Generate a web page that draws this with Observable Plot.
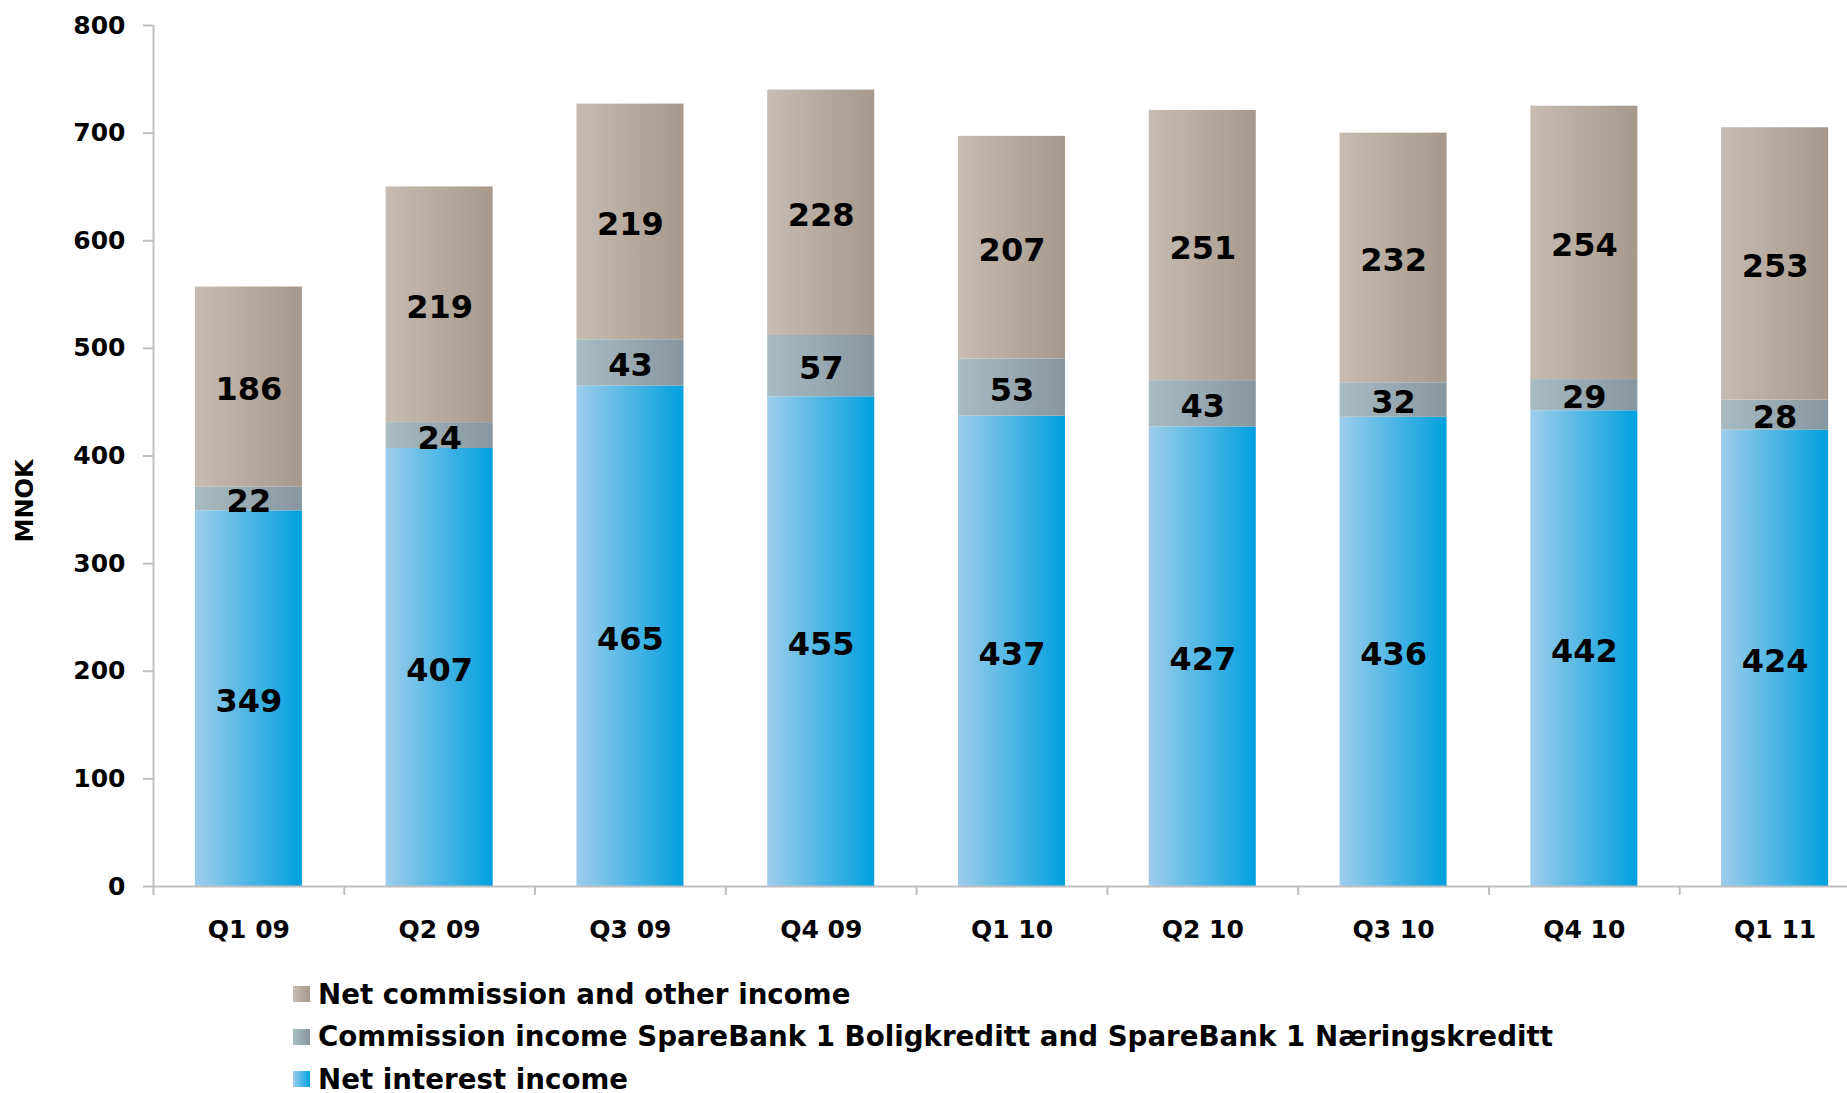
<!DOCTYPE html>
<html>
<head>
<meta charset="utf-8">
<script src="https://cdn.jsdelivr.net/npm/d3@7"></script>
<script src="https://cdn.jsdelivr.net/npm/@observablehq/plot@0.6"></script>
<style>
  html, body { margin: 0; padding: 0; background: #fff; }
  body { font-family: "DejaVu Sans", sans-serif; font-weight: bold; color: #000; }
  #chart { width: 1847px; }
  .legend { margin-left: 293px; padding-top: 13px; }
  .legend .row { display: flex; align-items: center; height: 42.5px; font-size: 27.7px; white-space: nowrap; }
  .legend .sw { width: 17px; height: 16px; margin-right: 8px; flex: none; }
</style>
</head>
<body>
<div id="chart"></div>
<script>
// ---- data ----
const quarters = ["Q1 09", "Q2 09", "Q3 09", "Q4 09", "Q1 10", "Q2 10", "Q3 10", "Q4 10", "Q1 11"];
const netInterestIncome = [349, 407, 465, 455, 437, 427, 436, 442, 424];
const commissionSB1 = [22, 24, 43, 57, 53, 43, 32, 29, 28];
const netCommissionOther = [186, 219, 219, 228, 207, 251, 232, 254, 253];
const seriesNames = [
  "Net interest income",
  "Commission income SpareBank 1 Boligkreditt and SpareBank 1 Næringskreditt",
  "Net commission and other income"
];
const legendOrder = [seriesNames[2], seriesNames[1], seriesNames[0]];
const yTicks = [0, 100, 200, 300, 400, 500, 600, 700, 800];
const yLabel = "MNOK";

// ---- styling ----
const gradients = [
  {id: "gBlue", from: "#9ecdec", to: "#00a0de"},
  {id: "gGray", from: "#a9bcc2", to: "#8796a1"},
  {id: "gTan",  from: "#c7bcb2", to: "#a6998c"}
];
const axisColor = "#bfbfbf";

const seriesValues = [netInterestIncome, commissionSB1, netCommissionOther];
const table = seriesNames.flatMap((s, si) =>
  quarters.map((q, qi) => ({quarter: q, series: s, value: seriesValues[si][qi]})));

const W = 1847, H = 960;
const xRange = [153, 1870];
const step = (xRange[1] - xRange[0]) / quarters.length;

const plot = Plot.plot({
  width: W,
  height: H,
  marginTop: 25,
  marginBottom: 74,
  marginLeft: 153,
  marginRight: 0,
  style: {fontFamily: "DejaVu Sans", fontWeight: "bold", color: "#000", background: "#fff"},
  x: {domain: quarters, range: xRange, paddingInner: 0.439, paddingOuter: 0.2195, round: false, axis: null},
  y: {domain: [0, 800], axis: null},
  color: {domain: seriesNames, range: gradients.map(g => `url(#${g.id})`)},
  marks: [
    Plot.barY(table, Plot.stackY({x: "quarter", y: "value", fill: "series", order: seriesNames})),
    Plot.ruleY([0], {stroke: axisColor, strokeWidth: 2}),
    Plot.ruleX([quarters[0]], {x: d => d, dx: -step / 2, y1: 0, y2: 800, stroke: axisColor, strokeWidth: 2}),
    Plot.axisY({ticks: yTicks, tickSize: 10, tickPadding: 18, fontSize: 25, stroke: axisColor, strokeWidth: 2, label: null}),
    Plot.axisX({tickSize: 9, dx: -step / 2, tickFormat: () => "", stroke: axisColor, strokeWidth: 2, label: null}),
    Plot.axisX({tickSize: 0, tickPadding: 34, fontSize: 25, label: null}),
    Plot.text(table, Plot.stackY({
      x: "quarter", y: "value", z: "series", order: seriesNames,
      text: d => String(d.value), fontSize: 32, fill: "#000", fontWeight: "bold", dy: 3
    })),
    Plot.text([yLabel], {text: d => d, frameAnchor: "left", textAnchor: "middle", dx: -128, dy: 45, rotate: -90, fontSize: 24, fill: "#000"})
  ]
});

// gradient definitions
const svg = d3.select(plot);
const defs = svg.insert("defs", ":first-child");
for (const g of gradients) {
  const lg = defs.append("linearGradient").attr("id", g.id).attr("x1", 0).attr("x2", 1).attr("y1", 0).attr("y2", 0);
  lg.append("stop").attr("offset", "0%").attr("stop-color", g.from);
  lg.append("stop").attr("offset", "100%").attr("stop-color", g.to);
}

const chart = document.getElementById("chart");
chart.appendChild(plot);

// legend (HTML, below the SVG)
const legend = document.createElement("div");
legend.className = "legend";
for (const name of legendOrder) {
  const g = gradients[seriesNames.indexOf(name)];
  const row = document.createElement("div");
  row.className = "row";
  const sw = document.createElement("span");
  sw.className = "sw";
  sw.style.background = `linear-gradient(to right, ${g.from}, ${g.to})`;
  const label = document.createElement("span");
  label.textContent = name;
  row.appendChild(sw);
  row.appendChild(label);
  legend.appendChild(row);
}
chart.appendChild(legend);
</script>
</body>
</html>
